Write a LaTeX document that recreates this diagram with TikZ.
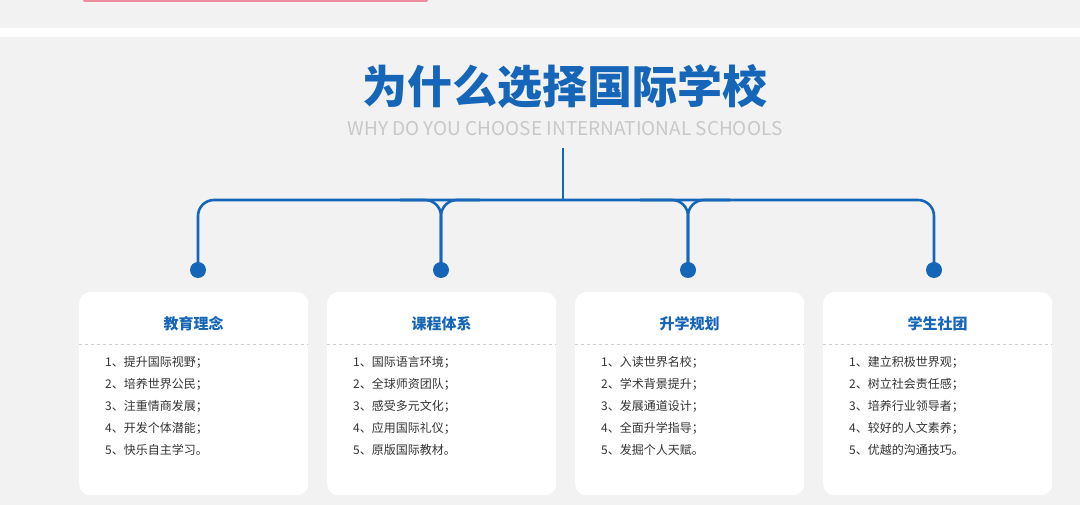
\documentclass[tikz,border=0pt]{standalone}
\usepackage{fontspec}
\setmainfont{Noto Sans CJK SC}
\begin{document}
\begin{tikzpicture}[x=1pt,y=-1pt]
\definecolor{bg}{HTML}{F2F2F2}
\definecolor{blu}{HTML}{1565B8}
\definecolor{sub}{HTML}{C8C8C8}
\definecolor{pinkb}{HTML}{F08CA0}
\tikzset{
 card/.style={fill=white,rounded corners=11pt,minimum width=229pt,minimum height=203pt,anchor=north west,inner sep=0pt},
 dot/.style={circle,fill=blu,minimum size=16pt,inner sep=0pt},
 line/.style={draw=blu,line width=2.6pt,rounded corners=16pt},
 head/.style={font=\fontsize{15}{15}\selectfont\bfseries,text=blu},
 items/.style={font=\fontsize{12}{22}\selectfont,text=black!80,align=left,anchor=north west,inner sep=0pt}
}
\useasboundingbox (0,0) rectangle (1080,505);
\fill[bg] (0,0) rectangle (1080,505);
\fill[pinkb,rounded corners=2pt] (83,-4) rectangle (428,2);
\fill[white] (0,28) rectangle (1080,37);
\node[font=\fontsize{45}{45}\selectfont\bfseries,text=blu] (title) at (565,86) {为什么选择国际学校};
\node[font=\fontsize{19}{19}\selectfont,text=sub] (subt) at (565,129) {WHY DO YOU CHOOSE INTERNATIONAL SCHOOLS};
\coordinate (top) at (563,148);
\coordinate (j) at (563,200);
\draw[line,rounded corners=0] (top) -- (j);
\foreach \i/\x in {1/198,2/441,3/688,4/934}{\node[dot] (d\i) at (\x,270) {};}
\draw[line] (d1.center) -- (198,200) -- (934,200) -- (d4.center);
\draw[line] (d2.center) -- (441,200) -- (400,200);
\draw[line] (d2.center) -- (441,200) -- (480,200);
\draw[line] (d3.center) -- (688,200) -- (640,200);
\draw[line] (d3.center) -- (688,200) -- (730,200);
\foreach \i/\x/\h/\t in {
1/79/教育理念/{1、提升国际视野；\\2、培养世界公民；\\3、注重情商发展；\\4、开发个体潜能；\\5、快乐自主学习。},
2/327/课程体系/{1、国际语言环境；\\2、全球师资团队；\\3、感受多元文化；\\4、应用国际礼仪；\\5、原版国际教材。},
3/575/升学规划/{1、入读世界名校；\\2、学术背景提升；\\3、发展通道设计；\\4、全面升学指导；\\5、发掘个人天赋。},
4/823/学生社团/{1、建立积极世界观；\\2、树立社会责任感；\\3、培养行业领导者；\\4、较好的人文素养；\\5、优越的沟通技巧。}}{
 \node[card] (c\i) at (\x,292) {};
 \node[head] (h\i) at (\x+114.5,324) {\h};
 \draw[dashed,draw=black!20,line width=0.6pt] (\x,344) -- (\x+229,344);
 \node[items] (t\i) at (\x+26,356) {\t};
}
\end{tikzpicture}
\end{document}
